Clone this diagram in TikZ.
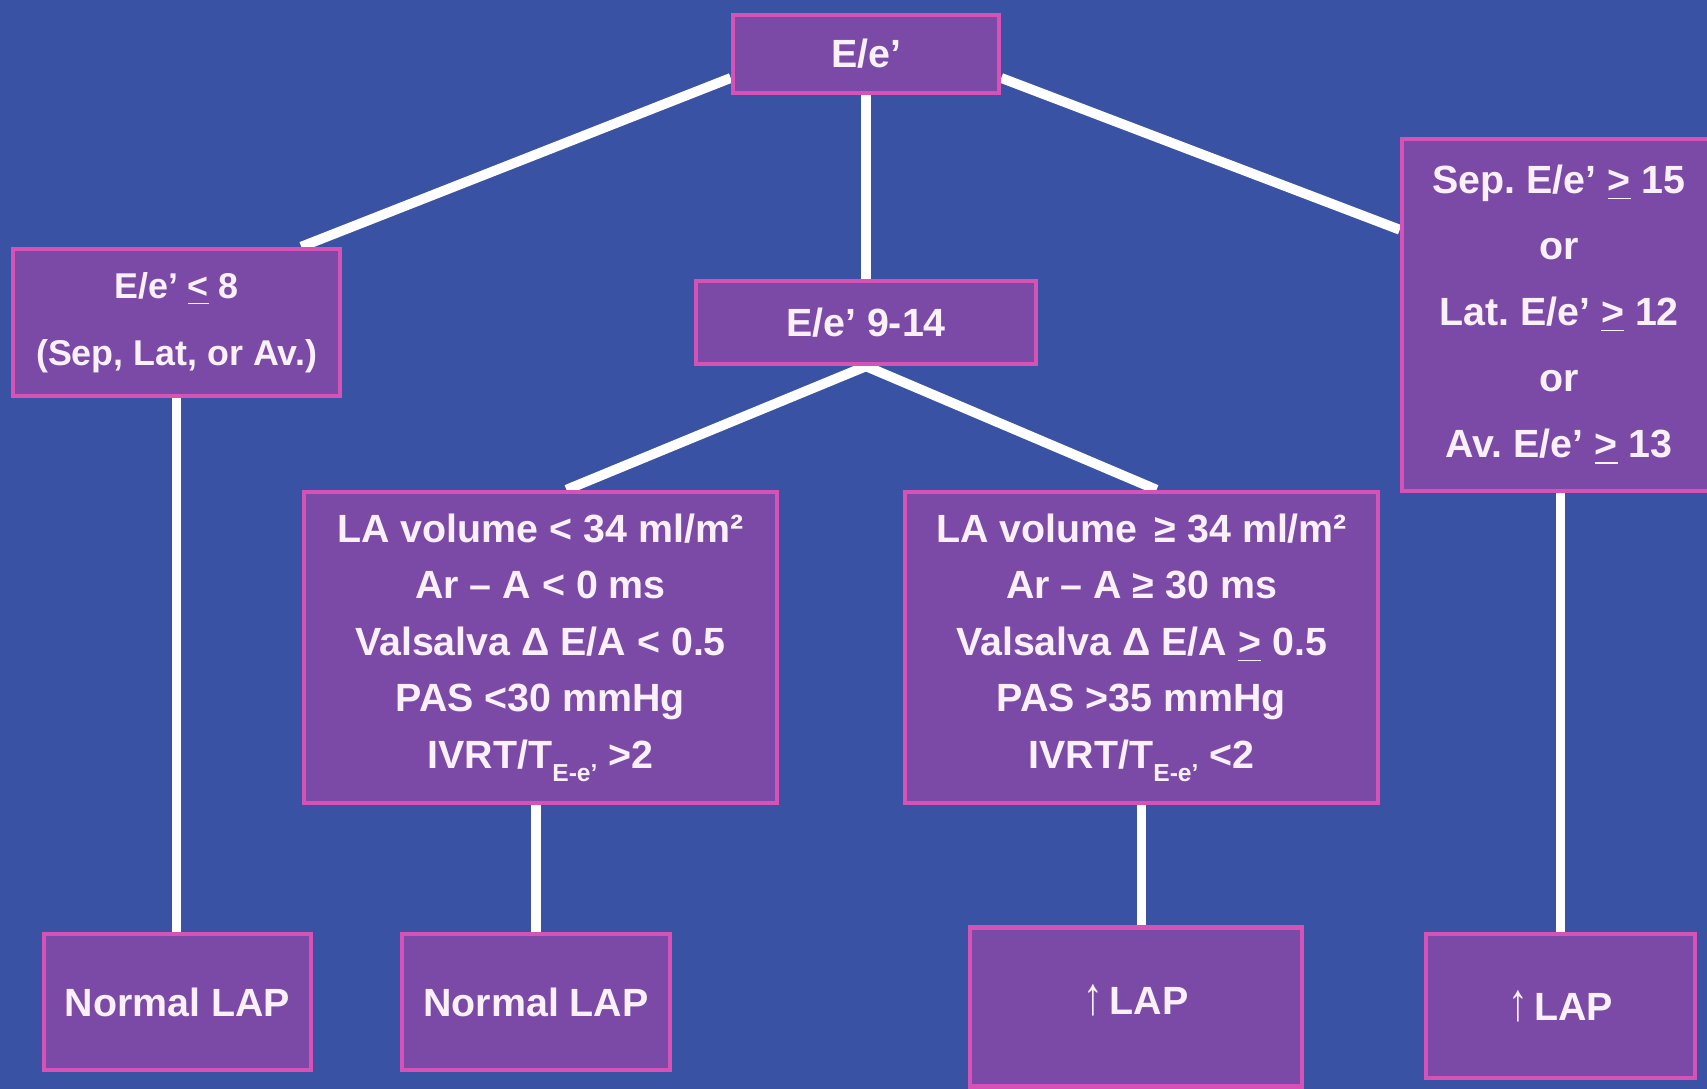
\documentclass[tikz,border=0pt]{standalone}
\usepackage{fontspec}
\setmainfont{Liberation Sans}
\usetikzlibrary{calc}
\frenchspacing
\definecolor{bgblue}{RGB}{58,82,164}
\definecolor{boxfill}{RGB}{122,74,166}
\definecolor{boxedge}{RGB}{214,82,182}
\definecolor{txt}{RGB}{250,240,250}
\pgfdeclarelayer{bg}
\pgfdeclarelayer{lines}
\pgfsetlayers{bg,lines,main}
\newcommand{\subEe}{\raisebox{-0.6ex}{\fontsize{7}{7}\selectfont E-e’}}
\newcommand{\uparr}{\scalebox{1}[1.35]{↑}}
\begin{document}
\begin{tikzpicture}[x=1cm, y={(0cm,-1cm)},
    box/.style={draw=boxedge, line width=1.3pt, fill=boxfill, text=txt, align=center,
      inner sep=0pt, font=\bfseries\fontsize{11.2}{16.1}\selectfont},
    link/.style={draw=white, line width=2.8pt}]
  \useasboundingbox (0,0) rectangle (17.07,10.89);
  \begin{pgfonlayer}{bg}
    \fill[bgblue] (0,0) rectangle (17.07,10.89);
  \end{pgfonlayer}
  % top row
  \node[box, minimum width=2.66cm, minimum height=0.78cm] (top) at (8.66,0.54) {E/e’};
  \node[box, font=\bfseries\fontsize{10.2}{19}\selectfont, minimum width=3.27cm, minimum height=1.47cm] (lo) at (1.765,3.225)
    {E/e’ \underline{<} 8\\(Sep, Lat, or Av.)};
  \node[box, minimum width=3.40cm, minimum height=0.83cm] (mid) at (8.66,3.225) {E/e’ 9-14};
  \node[box, font=\bfseries\fontsize{11.2}{18.8}\selectfont, minimum width=3.14cm, minimum height=3.52cm] (rt) at (15.59,3.15)
    {Sep. E/e’ \underline{>} 15\\or\\Lat. E/e’ \underline{>} 12\\or\\Av. E/e’ \underline{>} 13};
  % criteria
  \node[box, minimum width=4.73cm, minimum height=3.11cm] (lal) at (5.405,6.475)
    {LA volume < 34 ml/m²\\Ar – A < 0 ms\\Valsalva Δ E/A < 0.5\\PAS <30 mmHg\\IVRT/T\subEe{} >2};
  \node[box, minimum width=4.73cm, minimum height=3.11cm] (lar) at (11.415,6.475)
    {LA volume \,≥ 34 ml/m²\\Ar – A ≥ 30 ms\\Valsalva Δ E/A \underline{>} 0.5\\PAS >35 mmHg\\IVRT/T\subEe{} <2};
  % outcomes
  \node[box, minimum width=2.67cm, minimum height=1.36cm] (nl1) at (1.775,10.02) {Normal LAP};
  \node[box, minimum width=2.68cm, minimum height=1.36cm] (nl2) at (5.36,10.02) {Normal LAP};
  \node[box, minimum width=3.32cm, minimum height=1.59cm] (up3) at (11.36,10.07) {\raisebox{0.14cm}{\uparr\,LAP}};
  \node[box, minimum width=2.69cm, minimum height=1.44cm] (up4) at (15.605,10.06) {\uparr\,LAP};
  \begin{pgfonlayer}{lines}
    \draw[link] ([yshift=-0.24cm]top.west) -- ([xshift=-0.41cm]lo.north east);
    \draw[link] ([yshift=-0.24cm]top.east) -- ([yshift=-0.93cm]rt.north west);
    \draw[link] (top.south) -- (mid.north);
    \draw[link] (mid.south) -- ([xshift=0.26cm]lal.north);
    \draw[link] (mid.south) -- ([xshift=0.15cm]lar.north);
    \draw[link] (lo.south) -- (lo.south |- nl1.north);
    \draw[link] (lal.south -| nl2.north) -- (nl2.north);
    \draw[link] (lar.south) -- (lar.south |- up3.north);
    \draw[link] (rt.south -| up4.north) -- (up4.north);
  \end{pgfonlayer}
\end{tikzpicture}
\end{document}
